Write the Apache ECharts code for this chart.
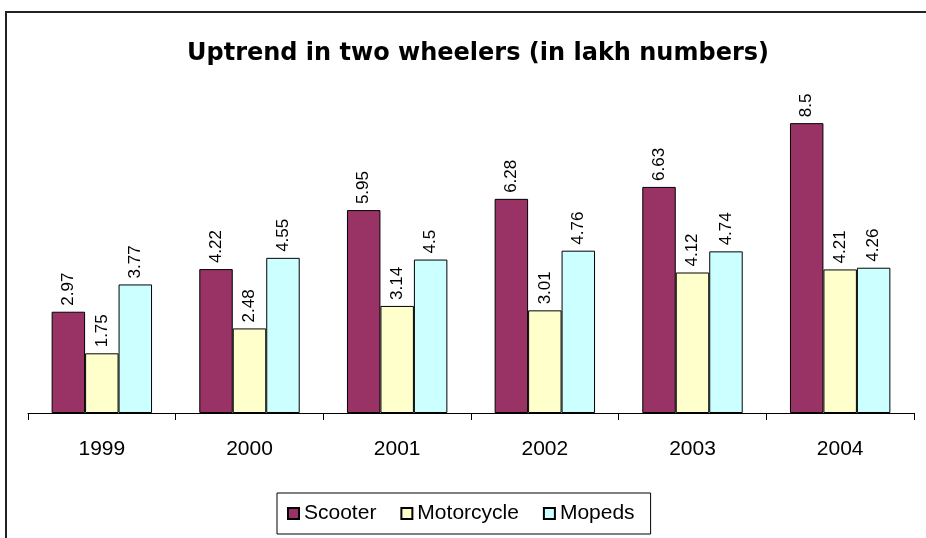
<!DOCTYPE html>
<html>
<head>
<meta charset="utf-8">
<script src="https://cdn.jsdelivr.net/npm/echarts@6/dist/echarts.min.js"></script>
<style>
html, body { margin: 0; padding: 0; background: #fff; }
#main { width: 926px; height: 538px; }
</style>
</head>
<body>
<div id="main"></div>
<script>
var years = ['1999', '2000', '2001', '2002', '2003', '2004'];
var scooter = [2.97, 4.22, 5.95, 6.28, 6.63, 8.5];
var motorcycle = [1.75, 2.48, 3.14, 3.01, 4.12, 4.21];
var mopeds = [3.77, 4.55, 4.5, 4.76, 4.74, 4.26];

var chart = echarts.init(document.getElementById('main'));

// value label on top of each bar, written upwards
function barLabel() {
	return {
		show: true,
		position: 'top',
		rotate: 90,
		align: 'left',
		verticalAlign: 'middle',
		distance: 6,
		color: '#000',
		fontFamily: 'Liberation Sans, Arial',
		fontSize: 17
	};
}

function makeSeries(name, data, color) {
	return {
		name: name,
		type: 'bar',
		data: data,
		barGap: 0,
		barCategoryGap: '32%',
		itemStyle: { color: color, borderColor: '#000', borderWidth: 1 },
		label: barLabel()
	};
}

var option = {
	backgroundColor: '#fff',
	animation: false,
	title: {
		text: 'Uptrend in two wheelers (in lakh numbers)',
		left: 473,
		textAlign: 'center',
		top: 37,
		textStyle: { fontFamily: 'DejaVu Sans', fontWeight: 'bold', fontSize: 24, color: '#000' }
	},
	graphic: [{
		type: 'rect',
		shape: { x: 6, y: 12, width: 940, height: 560 },
		style: { fill: 'none', stroke: '#222', lineWidth: 2 },
		silent: true
	}],
	legend: {
		data: ['Scooter', 'Motorcycle', 'Mopeds'],
		left: 277,
		top: 493,
		padding: [10, 16, 10, 10],
		itemGap: 24,
		itemWidth: 11,
		itemHeight: 11,
		icon: 'rect',
		borderColor: '#000',
		borderWidth: 1,
		backgroundColor: '#fff',
		textStyle: { fontFamily: 'Liberation Sans, Arial', fontSize: 21, color: '#000' }
	},
	grid: { left: 28, right: 12, top: 72, bottom: 125 },
	xAxis: {
		type: 'category',
		data: years,
		axisLine: { lineStyle: { color: '#000', width: 1 } },
		axisTick: { show: true, length: 7, lineStyle: { color: '#000' } },
		axisLabel: { margin: 26, fontFamily: 'Liberation Sans, Arial', fontSize: 21, color: '#000' }
	},
	yAxis: {
		type: 'value',
		min: 0,
		max: 10,
		show: false,
		splitLine: { show: false }
	},
	series: [
		makeSeries('Scooter', scooter, '#993366'),
		makeSeries('Motorcycle', motorcycle, '#FFFFCC'),
		makeSeries('Mopeds', mopeds, '#CCFFFF')
	]
};

chart.setOption(option);
</script>
</body>
</html>
